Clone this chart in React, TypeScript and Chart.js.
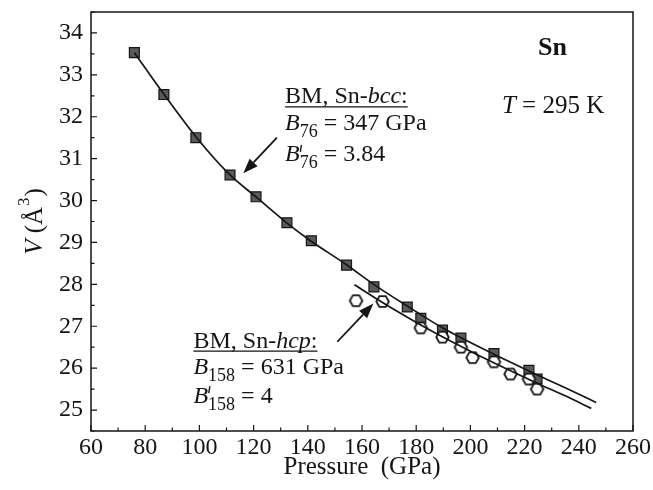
import React, { useEffect, useRef } from "react";
import { Chart, registerables } from "chart.js";

Chart.register(...registerables);

// ---- data ----
const bccPressure = [76.0, 86.9, 98.7, 111.3, 120.9, 132.3, 141.3, 154.3, 164.4, 176.7, 181.7, 189.7, 196.5, 208.7, 221.6, 224.6];
const bccVolume = [33.53, 32.53, 31.5, 30.61, 30.09, 29.47, 29.04, 28.46, 27.94, 27.46, 27.19, 26.91, 26.72, 26.35, 25.95, 25.74];

const hcpPressure = [157.8, 167.6, 181.7, 189.7, 196.5, 200.8, 208.7, 214.8, 221.6, 224.6];
const hcpVolume = [27.61, 27.59, 26.96, 26.74, 26.5, 26.25, 26.15, 25.86, 25.74, 25.5];

const bccFitPressure = [76, 87, 99, 111, 121, 132, 141, 154, 165, 177, 190, 200, 210, 222, 235, 246.4];
const bccFitVolume = [33.53, 32.53, 31.5, 30.63, 30.08, 29.48, 29.04, 28.48, 27.97, 27.47, 26.95, 26.61, 26.29, 25.92, 25.53, 25.18];

const hcpFitPressure = [157.2, 165, 175, 185, 195, 205, 215, 225, 235, 244.6];
const hcpFitVolume = [27.99, 27.67, 27.28, 26.91, 26.57, 26.24, 25.93, 25.63, 25.34, 25.04];

const xMin = 60;
const xMax = 260;
const xStep = 10;
const xLabelEvery = 20;
const yMin = 24.5;
const yMax = 34.5;
const yStep = 0.5;

const SERIF = '"Liberation Serif", "Times New Roman", serif';
const INK = "#151515";

type Seg = { t: string; f: string; dy?: number; dx?: number; prime?: boolean };

function drawRich(ctx: CanvasRenderingContext2D, segs: Seg[], x: number, y: number, align: "left" | "center") {
  let w = 0;
  for (const s of segs) {
    if (s.prime) continue;
    ctx.font = s.f;
    w += ctx.measureText(s.t).width + (s.dx || 0);
  }
  let cx = align === "center" ? x - w / 2 : x;
  for (const s of segs) {
    if (s.prime) {
      ctx.save();
      ctx.lineWidth = 1.4;
      ctx.strokeStyle = INK;
      ctx.beginPath();
      ctx.moveTo(cx + 1.8, y - 16.5);
      ctx.lineTo(cx + 0.6, y - 9.5);
      ctx.stroke();
      ctx.restore();
      continue;
    }
    ctx.font = s.f;
    ctx.fillText(s.t, cx + (s.dx || 0), y + (s.dy || 0));
    cx += ctx.measureText(s.t).width + (s.dx || 0);
  }
  return w;
}

function drawArrow(ctx: CanvasRenderingContext2D, x0: number, y0: number, x1: number, y1: number) {
  const ang = Math.atan2(y1 - y0, x1 - x0);
  const headLen = 15;
  const headHalf = 5.5;
  const bx = x1 - headLen * Math.cos(ang);
  const by = y1 - headLen * Math.sin(ang);
  ctx.beginPath();
  ctx.moveTo(x0, y0);
  ctx.lineTo(bx, by);
  ctx.lineWidth = 1.8;
  ctx.strokeStyle = INK;
  ctx.stroke();
  ctx.beginPath();
  ctx.moveTo(x1, y1);
  ctx.lineTo(bx + headHalf * Math.sin(ang), by - headHalf * Math.cos(ang));
  ctx.lineTo(bx - headHalf * Math.sin(ang), by + headHalf * Math.cos(ang));
  ctx.closePath();
  ctx.fillStyle = INK;
  ctx.fill();
}

function makeHexagon(): HTMLCanvasElement {
  const r = 6.3;
  const lw = 1.8;
  const size = 17;
  const c = document.createElement("canvas");
  c.width = size;
  c.height = size;
  const g = c.getContext("2d")!;
  g.beginPath();
  for (let i = 0; i < 6; i++) {
    const a = (Math.PI / 3) * i;
    const px = size / 2 + r * Math.cos(a);
    const py = size / 2 + r * Math.sin(a);
    if (i === 0) g.moveTo(px, py);
    else g.lineTo(px, py);
  }
  g.closePath();
  g.fillStyle = "#ffffff";
  g.fill();
  g.lineWidth = lw;
  g.strokeStyle = INK;
  g.stroke();
  return c;
}

const decorPlugin = {
  id: "decor",
  afterDraw(chart: any) {
    const ctx: CanvasRenderingContext2D = chart.ctx;
    const { left, right, top, bottom } = chart.chartArea;
    const xs = chart.scales.x;
    const ys = chart.scales.y;
    ctx.save();

    // frame
    ctx.strokeStyle = INK;
    ctx.lineWidth = 1.5;
    ctx.strokeRect(left, top, right - left, bottom - top);

    // inward ticks
    ctx.lineWidth = 1.2;
    ctx.beginPath();
    for (const t of xs.ticks) {
      const px = xs.getPixelForValue(t.value);
      const major = Math.abs(t.value % xLabelEvery) < 1e-6;
      const len = major ? 6 : 3.5;
      ctx.moveTo(px, bottom);
      ctx.lineTo(px, bottom - len);
    }
    for (const t of ys.ticks) {
      const py = ys.getPixelForValue(t.value);
      const major = Math.abs(t.value - Math.round(t.value)) < 1e-6;
      const len = major ? 6 : 3.5;
      ctx.moveTo(left, py);
      ctx.lineTo(left + len, py);
    }
    ctx.stroke();

    ctx.fillStyle = INK;
    ctx.textBaseline = "alphabetic";
    const reg = (s: number) => `${s}px ${SERIF}`;
    const ital = (s: number) => `italic ${s}px ${SERIF}`;
    const bold = (s: number) => `bold ${s}px ${SERIF}`;

    // x title
    drawRich(ctx, [{ t: "Pressure  (GPa)", f: reg(25) }], (left + right) / 2, 474, "center");

    // y title (rotated)
    ctx.save();
    ctx.translate(42, (top + bottom) / 2);
    ctx.rotate(-Math.PI / 2);
    drawRich(
      ctx,
      [
        { t: "V", f: ital(25) },
        { t: " (", f: reg(25) },
        { t: "Å", f: reg(25) },
        { t: "3", f: reg(17), dy: -13, dx: 1 },
        { t: ")", f: reg(25), dx: 1 },
      ],
      0,
      0,
      "center"
    );
    ctx.restore();

    // Sn and T labels
    drawRich(ctx, [{ t: "Sn", f: bold(26) }], xs.getPixelForValue(230.3), ys.getPixelForValue(33.48), "center");
    drawRich(
      ctx,
      [
        { t: "T", f: ital(25) },
        { t: " = 295 K", f: reg(25) },
      ],
      xs.getPixelForValue(230.5),
      ys.getPixelForValue(32.08),
      "center"
    );

    // block 1: bcc
    const b1x = xs.getPixelForValue(131.6);
    const b1y = ys.getPixelForValue(32.32);
    const w1 = drawRich(
      ctx,
      [
        { t: "BM, Sn-", f: reg(24) },
        { t: "bcc", f: ital(24) },
        { t: ":", f: reg(24) },
      ],
      b1x,
      b1y,
      "left"
    );
    ctx.lineWidth = 1.3;
    ctx.strokeStyle = INK;
    ctx.beginPath();
    ctx.moveTo(b1x, b1y + 3.5);
    ctx.lineTo(b1x + w1, b1y + 3.5);
    ctx.stroke();
    drawRich(
      ctx,
      [
        { t: "B", f: ital(24) },
        { t: "76", f: reg(18), dy: 7 },
        { t: " = 347 GPa", f: reg(24) },
      ],
      b1x,
      b1y + 27,
      "left"
    );
    drawRich(
      ctx,
      [
        { t: "B", f: ital(24) },
        { t: "", f: reg(18), prime: true },
        { t: "76", f: reg(18), dy: 7 },
        { t: " = 3.84", f: reg(24) },
      ],
      b1x,
      b1y + 58,
      "left"
    );

    // block 2: hcp
    const b2x = xs.getPixelForValue(97.8);
    const b2y = ys.getPixelForValue(26.49);
    const w2 = drawRich(
      ctx,
      [
        { t: "BM, Sn-", f: reg(24) },
        { t: "hcp", f: ital(24) },
        { t: ":", f: reg(24) },
      ],
      b2x,
      b2y,
      "left"
    );
    ctx.beginPath();
    ctx.moveTo(b2x, b2y + 3.5);
    ctx.lineTo(b2x + w2, b2y + 3.5);
    ctx.stroke();
    drawRich(
      ctx,
      [
        { t: "B", f: ital(24) },
        { t: "158", f: reg(18), dy: 7 },
        { t: " = 631 GPa", f: reg(24) },
      ],
      b2x,
      b2y + 26,
      "left"
    );
    drawRich(
      ctx,
      [
        { t: "B", f: ital(24) },
        { t: "", f: reg(18), prime: true },
        { t: "158", f: reg(18), dy: 7 },
        { t: " = 4", f: reg(24) },
      ],
      b2x,
      b2y + 55,
      "left"
    );

    // arrows
    drawArrow(ctx, xs.getPixelForValue(128.6), ys.getPixelForValue(31.5), xs.getPixelForValue(116.2), ys.getPixelForValue(30.65));
    drawArrow(ctx, xs.getPixelForValue(150.9), ys.getPixelForValue(26.63), xs.getPixelForValue(164.2), ys.getPixelForValue(27.54));

    ctx.restore();
  },
};

export default function App() {
  const ref = useRef<HTMLCanvasElement | null>(null);
  useEffect(() => {
    if (!ref.current) return;
    const hex = makeHexagon();
    const toXY = (xs: number[], ys: number[]) => xs.map((x, i) => ({ x, y: ys[i] }));
    const noPad = (s: any) => {
      s.paddingTop = 0;
      s.paddingBottom = 0;
      s.paddingLeft = 0;
      s.paddingRight = 0;
    };
    const chart = new Chart(ref.current, {
      type: "scatter",
      data: {
        datasets: [
          {
            label: "BM bcc",
            data: toXY(bccFitPressure, bccFitVolume),
            showLine: true,
            pointRadius: 0,
            borderColor: INK,
            borderWidth: 1.7,
            cubicInterpolationMode: "monotone",
          } as any,
          {
            label: "BM hcp",
            data: toXY(hcpFitPressure, hcpFitVolume),
            showLine: true,
            pointRadius: 0,
            borderColor: INK,
            borderWidth: 1.7,
            cubicInterpolationMode: "monotone",
          } as any,
          {
            label: "Sn-hcp",
            data: toXY(hcpPressure, hcpVolume),
            pointStyle: hex as any,
            pointRadius: 6,
            showLine: false,
          },
          {
            label: "Sn-bcc",
            data: toXY(bccPressure, bccVolume),
            pointStyle: "rect",
            pointRadius: 7,
            backgroundColor: "#5a5a5a",
            borderColor: INK,
            borderWidth: 1.2,
            showLine: false,
          },
        ],
      },
      options: {
        animation: false,
        responsive: false,
        layout: { padding: { left: 0, right: 20, top: 12, bottom: 0 } },
        plugins: { legend: { display: false }, tooltip: { enabled: false } },
        scales: {
          x: {
            type: "linear",
            min: xMin,
            max: xMax,
            afterFit: (s: any) => {
              s.height = 59;
              noPad(s);
            },
            grid: { display: false, drawTicks: false },
            border: { display: false },
            ticks: {
              stepSize: xStep,
              autoSkip: false,
              maxRotation: 0,
              padding: 2,
              color: INK,
              font: { family: SERIF, size: 24 },
              callback: (v: any) => (Math.abs(Number(v) % xLabelEvery) < 1e-6 ? String(v) : ""),
            },
          },
          y: {
            type: "linear",
            min: yMin,
            max: yMax,
            afterFit: (s: any) => {
              s.width = 91;
              noPad(s);
            },
            grid: { display: false, drawTicks: false },
            border: { display: false },
            ticks: {
              stepSize: yStep,
              autoSkip: false,
              padding: 8,
              color: INK,
              font: { family: SERIF, size: 24 },
              callback: (v: any) => (Math.abs(Number(v) - Math.round(Number(v))) < 1e-6 ? String(v) : ""),
            },
          },
        },
      },
      plugins: [decorPlugin],
    });
    return () => chart.destroy();
  }, []);
  return (
    <div style={{ position: "fixed", left: 0, top: 0, width: 653, height: 490, background: "#fff" }}>
      <canvas ref={ref} width={653} height={490} style={{ display: "block" }} />
    </div>
  );
}
